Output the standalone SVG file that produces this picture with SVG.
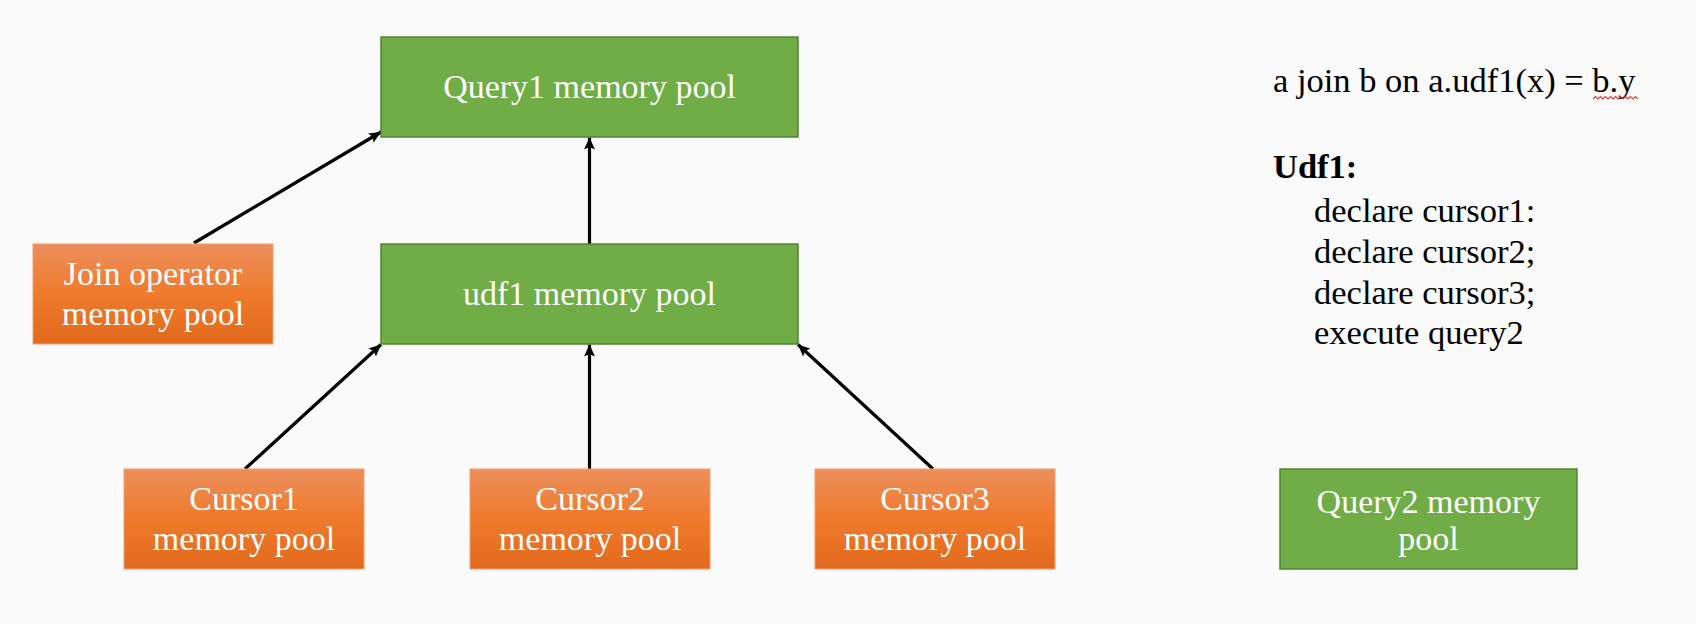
<svg xmlns="http://www.w3.org/2000/svg" width="1696" height="624" viewBox="0 0 1696 624">
<style>
.green{fill:#70ad47;stroke:#548235;stroke-width:1.5}
.orange{fill:url(#og);stroke:#f0a070;stroke-width:1}
.bt{font-family:"Liberation Serif","Times New Roman",serif;font-size:34px;fill:#ffffff;text-anchor:middle}
.rt{font-family:"Liberation Serif","Times New Roman",serif;font-size:34.5px;fill:#000000}
.conn{stroke:#000;stroke-width:3.2;fill:none;marker-end:url(#ah)}
</style>
<defs>
<linearGradient id="og" x1="0" y1="0" x2="0" y2="1">
<stop offset="0" stop-color="#ec8f5c"/>
<stop offset="0.5" stop-color="#ef7a2c"/>
<stop offset="1" stop-color="#e2691d"/>
</linearGradient>
<marker id="ah" markerWidth="13" markerHeight="11" refX="12" refY="5.5" orient="auto" markerUnits="userSpaceOnUse">
<path d="M0,0 L12,5.5 L0,11 L2.5,5.5 Z" fill="#000"/>
</marker>
</defs>
<rect x="0" y="0" width="1696" height="624" fill="#fafafa"/>

<g id="connectors">
<line class="conn" x1="194" y1="243" x2="381" y2="132"/>
<line class="conn" x1="589.5" y1="244" x2="589.5" y2="137.5"/>
<line class="conn" x1="245" y1="469" x2="381" y2="344.5"/>
<line class="conn" x1="589.5" y1="469" x2="589.5" y2="344.5"/>
<line class="conn" x1="933" y1="469" x2="798" y2="344.5"/>
</g>

<g id="query1">
<rect class="green" x="381" y="37" width="417" height="100"/>
<text class="bt" x="589.5" y="98">Query1 memory pool</text>
</g>
<g id="udf1">
<rect class="green" x="381" y="244" width="417" height="100"/>
<text class="bt" x="589.5" y="305">udf1 memory pool</text>
</g>
<g id="join">
<rect class="orange" x="33" y="244" width="240" height="100"/>
<text class="bt" x="153" y="285">Join operator</text>
<text class="bt" x="153" y="325">memory pool</text>
</g>
<g id="cursor1">
<rect class="orange" x="124" y="469" width="240" height="100"/>
<text class="bt" x="244" y="510">Cursor1</text>
<text class="bt" x="244" y="550">memory pool</text>
</g>
<g id="cursor2">
<rect class="orange" x="470" y="469" width="240" height="100"/>
<text class="bt" x="590" y="510">Cursor2</text>
<text class="bt" x="590" y="550">memory pool</text>
</g>
<g id="cursor3">
<rect class="orange" x="815" y="469" width="240" height="100"/>
<text class="bt" x="935" y="510">Cursor3</text>
<text class="bt" x="935" y="550">memory pool</text>
</g>
<g id="query2">
<rect class="green" x="1280" y="469" width="297" height="100"/>
<text class="bt" x="1428.5" y="513">Query2 memory</text>
<text class="bt" x="1428.5" y="550">pool</text>
</g>

<g id="code">
<text class="rt" x="1273" y="92">a join b on a.udf1(x) = b.y</text>
<path d="M1593,99 l2.5,-2.5 l2.5,2.5 l2.5,-2.5 l2.5,2.5 l2.5,-2.5 l2.5,2.5 l2.5,-2.5 l2.5,2.5 l2.5,-2.5 l2.5,2.5 l2.5,-2.5 l2.5,2.5 l2.5,-2.5 l2.5,2.5 l2.5,-2.5 l2.5,2.5 l2.5,-2.5 l2.5,2.5" fill="none" stroke="#e04040" stroke-width="1.2"/>
<text class="rt" x="1273" y="178" font-weight="bold" font-size="37">Udf1:</text>
<text class="rt" x="1314" y="222" font-size="34">declare cursor1:</text>
<text class="rt" x="1314" y="263" font-size="34">declare cursor2;</text>
<text class="rt" x="1314" y="304" font-size="34">declare cursor3;</text>
<text class="rt" x="1314" y="344" font-size="34">execute query2</text>
</g>
</svg>
